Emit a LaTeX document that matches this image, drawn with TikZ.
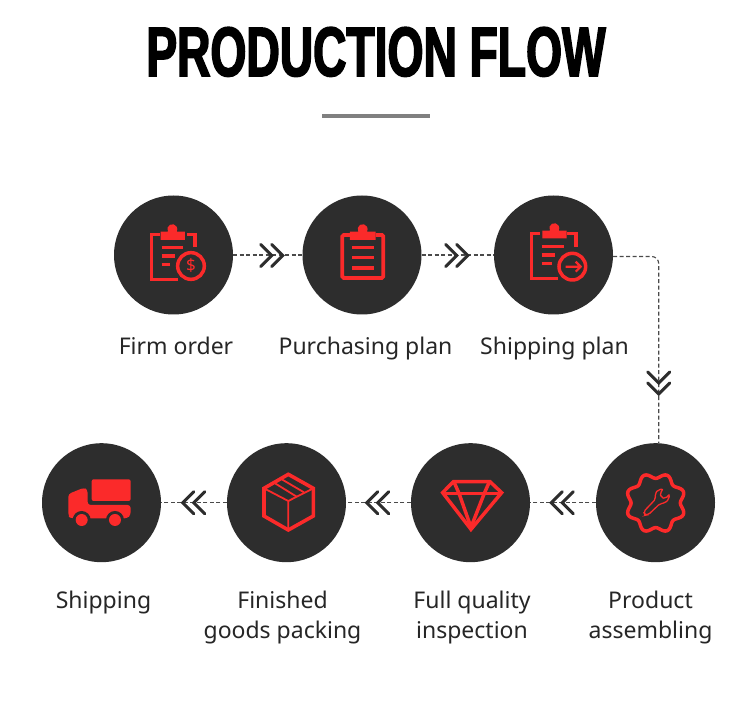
\documentclass[tikz,border=0pt]{standalone}
\usepackage{fontspec}
\setmainfont{Noto Sans}
\newfontfamily\titlefont[FakeStretch=0.66,FakeBold=2.2]{Liberation Sans Bold}
\usetikzlibrary{calc}
\definecolor{disc}{HTML}{2D2D2D}
\definecolor{ired}{HTML}{FB2A2A}
\definecolor{dashc}{HTML}{4A4A4A}
\definecolor{barc}{HTML}{808080}
\tikzset{
  discnode/.style={circle,fill=disc,draw=none,minimum size=119pt,inner sep=0pt},
  lab/.style={font=\fontsize{23}{30}\selectfont,text=black!85,anchor=base,inner sep=0pt,align=center},
  flow/.style={draw=dashc,line width=1.1pt,dash pattern=on 4pt off 2.5pt},
  irs/.style={draw=ired,line width=3.5pt},
  irt/.style={draw=ired,line width=1.3pt},
  zoomed/.style={x=0.3333pt,y=-0.3333pt},
  chev/.pic={\draw[draw=disc,line width=3pt,line cap=round,miter limit=10]
     (-11,-11)--(0,0)--(-11,11) (-22,-11)--(-11,0)--(-22,11);}
}
\begin{document}
\begin{tikzpicture}[x=1pt,y=-1pt]
\useasboundingbox (0,0) rectangle (750,708);
\fill[white] (0,0) rectangle (750,708);
% title
\node[anchor=base,inner sep=0pt,text=black,font=\titlefont\fontsize{70}{70}\selectfont] (title) at (376,76) {PRODUCTION FLOW};
\fill[barc] (322,114) rectangle (430,118);
% discs
\node[discnode] (c1) at (173.5,255) {};
\node[discnode] (c2) at (362,255) {};
\node[discnode] (c3) at (553.5,255) {};
\node[discnode] (c4) at (655.5,502.7) {};
\node[discnode] (c5) at (470.5,502.7) {};
\node[discnode] (c6) at (286.5,502.7) {};
\node[discnode] (c7) at (101.5,502.7) {};
% connectors
\coordinate (c4in) at (658.7,443.3);
\draw[flow] (c1) -- (c2);
\draw[flow] (c2) -- (c3);
\draw[flow,rounded corners=7pt] ($(c3.east)+(0,1.5)$) -| (c4in);
\draw[flow] (c4) -- (c5);
\draw[flow] (c5) -- (c6);
\draw[flow] (c6) -- (c7);
% chevrons
\pic at (282.7,255.5) {chev};
\pic at (467.7,255.5) {chev};
\pic[rotate=-90] at (658.7,394) {chev};
\pic[rotate=180] at (551.3,502.7) {chev};
\pic[rotate=180] at (366.7,502.7) {chev};
\pic[rotate=180] at (182.7,502.7) {chev};
% labels
\node[lab] (l1) at (176,355) {Firm order};
\node[lab] (l2) at (365.5,355) {Purchasing plan};
\node[lab] (l3) at (554.5,355) {Shipping plan};
\node[lab] (l4) at (650.5,608) {Product};
\node[lab] (l4b) at (650.5,638) {assembling};
\node[lab] (l5) at (472,608) {Full quality};
\node[lab] (l5b) at (472,638) {inspection};
\node[lab] (l6) at (282.5,608) {Finished};
\node[lab] (l6b) at (282.5,638) {goods packing};
\node[lab] (l7) at (103.5,608) {Shipping};
% icon 1
\begin{scope}[shift={(110,190)},zoomed]
\draw[irs] (150,133)--(125,133)--(125,268)--(205,268);
\draw[irs] (232,133)--(255,133)--(255,170);
\fill[ired] (152,150)--(152,125)--(174,125) arc[start angle=150,end angle=390,radius=15]--(225,125)--(225,150)--cycle;
\draw[irs] (155,173)--(218,173) (155,198)--(195,198) (155,223)--(180,223);
\draw[irs] (243,228) circle[radius=40];
\node[inner sep=0pt,text=ired,font=\bfseries\fontsize{17}{17}\selectfont] (d1) at (243,228) {\$};
\end{scope}
% icon 2
\begin{scope}[shift={(110,190)},zoomed]
\draw[irs,line width=3.8pt,rounded corners=1.5pt] (720,135)--(697,135)--(697,264)--(820,264)--(820,135)--(797,135);
\fill[ired] (720,150)--(720,125)--(745,125) arc[start angle=150,end angle=390,radius=15]--(797,125)--(797,150)--cycle;
\draw[irs] (727,172)--(793,172) (727,203)--(793,203) (727,234)--(793,234);
\end{scope}
% icon 3
\begin{scope}[shift={(490,190)},zoomed]
\draw[irs] (150,130)--(125,130)--(125,266)--(205,266);
\draw[irs] (232,130)--(258,130)--(258,170);
\fill[ired] (157,145)--(157,122)--(180,122) arc[start angle=150,end angle=390,radius=15]--(230,122)--(230,145)--cycle;
\draw[irs] (155,170)--(222,170) (155,195)--(195,195) (155,220)--(185,220);
\draw[irs] (247,230) circle[radius=40];
\draw[irt,line width=2.2pt] (227,230)--(272,230) (257,215)--(272,230)--(257,245);
\end{scope}
% icon 4 gear
\draw[irs,line join=round] plot[domain=0:360,samples=97,smooth] ({655.7+(27.3+2.7*cos(8*(\x-22.5)))*cos(\x)},{503+(27.3+2.7*cos(8*(\x-22.5)))*sin(\x)}) -- cycle;
\begin{scope}[shift={(615,463)},zoomed]
\draw[irt,rounded corners=2pt] (86,146)--(122,108)--(120,92)--(130,80)--(145,78)--(135,90)--(138,103)--(152,107)--(163,93)--(162,108)--(150,120)--(135,122)--(100,155)--(90,157)--cycle;
\end{scope}
% icon 5 diamond
\begin{scope}[shift={(350,440)},zoomed]
\draw[irs,line join=miter] (310,125)--(420,125)--(455,158)--(363,268)--(278,158)--cycle;
\draw[irs] (285,160)--(448,160);
\draw[irs] (313,128)--(327,160)--(363,262)--(403,160)--(417,128);
\end{scope}
% icon 6 box
\begin{scope}[shift={(40,440)},zoomed]
\draw[irs,line width=3.6pt] (745,103)--(820,145)--(820,228)--(745,270)--(672,228)--(672,145)--cycle;
\draw[irt,line width=1.8pt] (672,145)--(745,183)--(820,145) (745,183)--(745,270);
\draw[irt,line width=1.8pt] (722,116)--(792,157) (702,128)--(770,170);
\end{scope}
% icon 7 truck
\begin{scope}[shift={(40,440)},zoomed]
\fill[ired,rounded corners=2pt] (155,118) rectangle (272,183);
\fill[ired,rounded corners=3pt] (85,162)--(132,143)--(143,150)--(143,195)--(272,195)--(272,225)--(262,235)--(92,235)--(85,228)--cycle;
\fill[disc] (125,240) circle[radius=27] (225,240) circle[radius=27];
\fill[ired] (125,240) circle[radius=18] (225,240) circle[radius=18];
\end{scope}
\end{tikzpicture}
\end{document}
